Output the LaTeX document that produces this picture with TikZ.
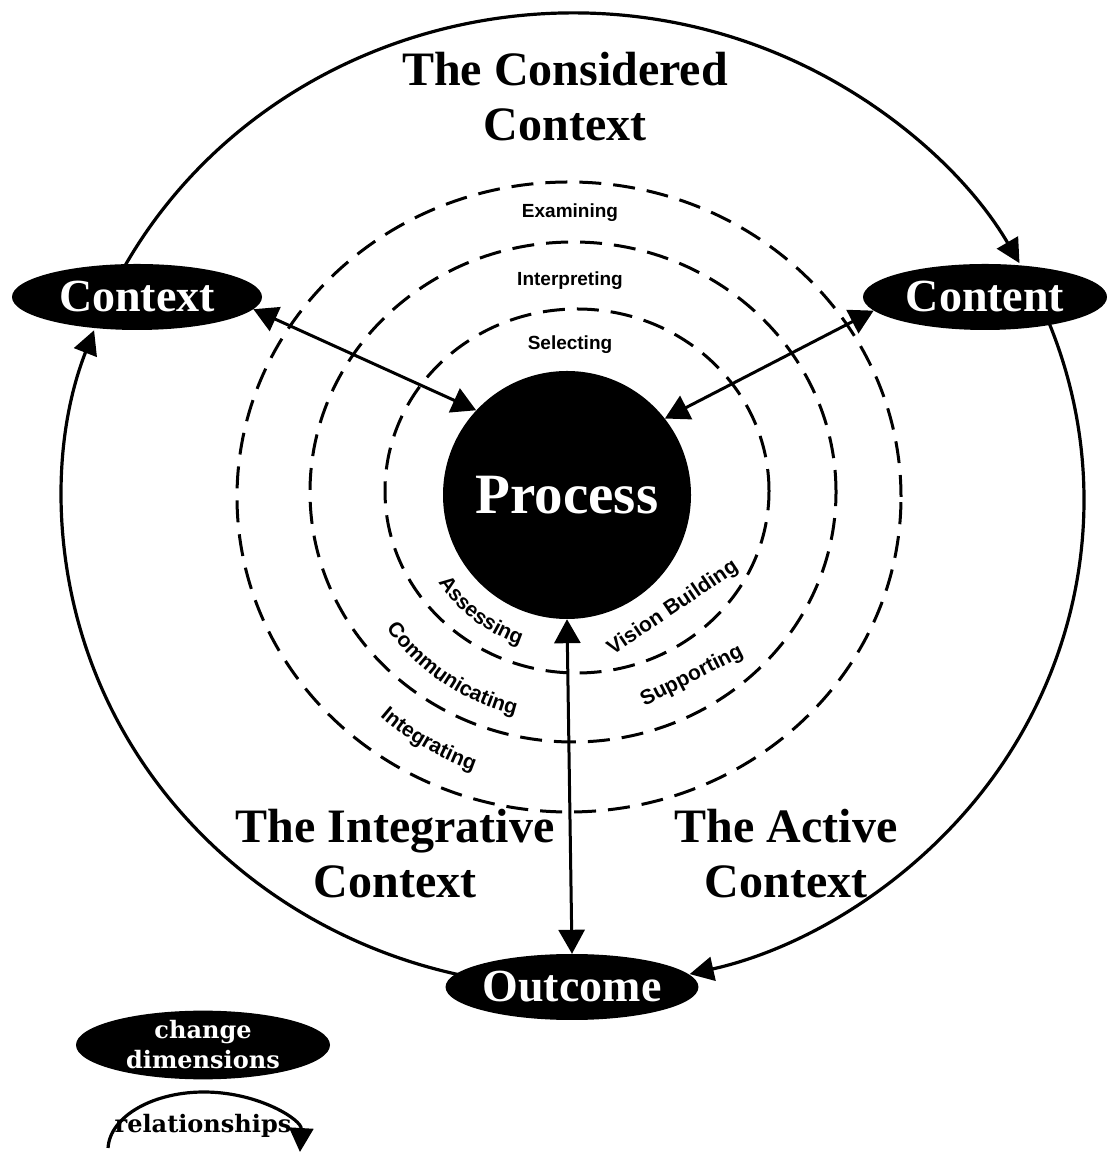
\documentclass[tikz,border=0pt]{standalone}
\usepackage{fontspec}
\setmainfont{Liberation Serif}
\newfontfamily\labfont{Liberation Sans}
\newfontfamily\legfont{DejaVu Serif}
\usetikzlibrary{arrows.meta,shapes.geometric,decorations.text,calc}
\newcommand\curvfont{\labfont\bfseries\fontsize{21}{21}\selectfont}
\begin{document}
\begin{tikzpicture}[x=1pt,y=1pt,
  dashring/.style={line width=3pt, dash pattern=on 22pt off 12pt},
  blob/.style={ellipse, fill=black, text=white, inner sep=0pt,
    font=\bfseries\fontsize{46}{46}\selectfont},
  dimnode/.style={blob, minimum width=250pt, minimum height=66pt},
  twoway/.style={line width=3pt,
    {Triangle[length=24pt,width=26pt]}-{Triangle[length=24pt,width=26pt]}},
  relarrow/.style={line width=3.2pt, -{Triangle[length=24pt,width=24pt]}},
  ctxlabel/.style={font=\bfseries\fontsize{48}{55}\selectfont, align=center},
  ringlabel/.style={font=\labfont\bfseries\fontsize{19}{19}\selectfont},
  tiltlabel/.style={font=\curvfont, inner sep=0pt},
  curv/.style={decorate, decoration={text along path, text align=center,
    text={|\curvfont|#1}}},
]
\useasboundingbox (0,0) rectangle (1106,1158);

% centres
\coordinate (oc) at (573,658);
\coordinate (pc) at (570,663);

% outer relationship ring (arcs between dimensions)
\draw[relarrow] ($(oc)+(153:511 and 487)$) arc[start angle=153, end angle=29.1, x radius=511, y radius=487];
\draw[relarrow] ($(oc)+(22:511 and 487)$) arc[start angle=22, end angle=-76.8, x radius=511, y radius=487];
\draw[relarrow] ($(oc)+(-101:511 and 487)$) arc[start angle=-101, end angle=-200.4, x radius=511, y radius=487];

% dashed rings
\draw[dashring] (569,661) ellipse[x radius=332, y radius=315];
\draw[dashring] (573,666) ellipse[x radius=263, y radius=250];
\draw[dashring] (577,667) ellipse[x radius=192, y radius=182];

% process and change dimensions
\node[circle, fill=black, minimum size=248pt, inner sep=0pt, text=white,
  font=\bfseries\fontsize{57}{57}\selectfont] (process) at (567,663) {Process};
\node[dimnode] (context) at (137,861) {Context};
\node[dimnode, minimum width=244pt] (content) at (985,861) {Content};
\node[dimnode] (outcome) at (572,171) {Outcome};

% relationships with the process
\draw[twoway] (context.-6) -- (process.137);
\draw[twoway] (content.187) -- (process.38);
\draw[twoway] (process.south) -- (outcome.north);

% ring labels
\node[ringlabel] (examining) at (570,945) {Examining};
\node[ringlabel] (interpreting) at (570,877) {Interpreting};
\node[ringlabel] (selecting) at (570,813) {Selecting};

\path[curv=Assessing] ($(pc)+(195:158)$) arc[start angle=195, end angle=270, radius=158];
\path[curv=Communicating] ($(pc)+(195:227)$) arc[start angle=195, end angle=277, radius=227];
\path[curv=Integrating] ($(pc)+(200:292)$) arc[start angle=200, end angle=280, radius=292];
\node[tiltlabel, rotate=34] (vision) at (673,550) {Vision Building};
\node[tiltlabel, rotate=27] (supporting) at (692,482) {Supporting};

% context labels
\node[ctxlabel] (considered) at (565,1061) {The Considered\\Context};
\node[ctxlabel] (integrative) at (395,304) {The Integrative\\Context};
\node[ctxlabel] (active) at (786,304) {The Active\\Context};

% legend
\node[blob, minimum width=254pt, minimum height=66pt, align=center,
  font=\legfont\bfseries\fontsize{24}{30}\selectfont] (legend) at (203,113) {change\\dimensions};
\node[font=\legfont\bfseries\fontsize{24}{24}\selectfont, inner sep=0pt] (rellabel) at (203,32) {relationships};
\coordinate (legc) at (204,8);
\draw[relarrow] ($(legc)+(178:96 and 58)$) arc[start angle=178, end angle=-2, x radius=96, y radius=58];
\end{tikzpicture}
\end{document}
